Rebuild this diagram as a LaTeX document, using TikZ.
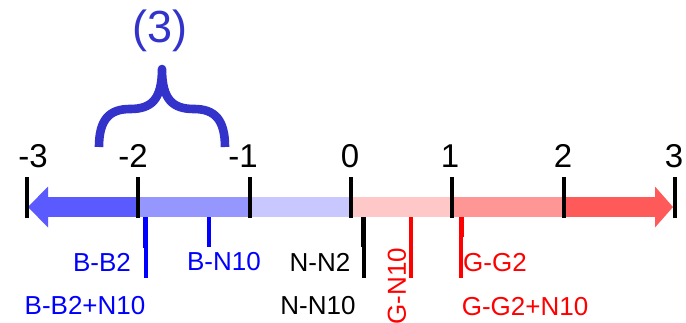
\documentclass[tikz,border=0pt]{standalone}
\usepackage{fontspec}
\setmainfont{Liberation Sans}
\definecolor{bneg3}{RGB}{90,90,255}
\definecolor{bneg2}{RGB}{150,150,255}
\definecolor{bneg1}{RGB}{200,200,255}
\definecolor{rpos1}{RGB}{255,200,200}
\definecolor{rpos2}{RGB}{255,150,150}
\definecolor{rpos3}{RGB}{255,90,90}
\definecolor{bracecol}{RGB}{51,51,204}

\begin{document}
\begin{tikzpicture}[x=0.5pt, y=0.5pt, every node/.style={inner sep=0pt},
  num/.style={font=\fontsize{16.5}{18}\selectfont},
  lab/.style={font=\fontsize{13}{15}\selectfont},
  tickmark/.style={line width=1.6pt},
  hitline/.style={line width=2pt}]
\useasboundingbox (0,0) rectangle (686,322);
% Farget skala
\fill[bneg3] (48,105) rectangle (138,125);
\fill[bneg3] (48,135.5) -- (28,115) -- (48,94.5) -- cycle;
\fill[bneg2] (138,105) rectangle (250,125);
\fill[bneg1] (250,105) rectangle (351,125);
\fill[rpos1] (351,105) rectangle (452,125);
\fill[rpos2] (452,105) rectangle (564,125);
\fill[rpos3] (564,105) rectangle (655,125);
\fill[rpos3] (655,135.5) -- (673,115) -- (655,94.5) -- cycle;
% Streker
\draw[tickmark] (27,104) -- (27,145);
\draw[tickmark] (138,104) -- (138,145);
\draw[tickmark] (250,104) -- (250,145);
\draw[tickmark] (351,104) -- (351,145);
\draw[tickmark] (452,104) -- (452,145);
\draw[tickmark] (564,104) -- (564,145);
\draw[tickmark] (675,104) -- (675,145);
% Tall
\node[num] (tm3) at (33,166) {-3};
\node[num] (tm2) at (133,166) {-2};
\node[num] (tm1) at (243,166) {-1};
\node[num] (t0) at (350,166) {0};
\node[num] (t1) at (450,166) {1};
\node[num] (t2) at (563,166) {2};
\node[num] (t3) at (674,166) {3};
% Markeringer (forenklet)
\draw[hitline, blue] (144.5,105) -- (144.5,74);
\draw[hitline, blue] (146,105) -- (146,44);
\draw[hitline, blue] (209,105) -- (209,75);
\draw[hitline] (363,105) -- (363,75);
\draw[hitline] (364,105) -- (364,44);
\draw[hitline, red] (410.5,105) -- (410.5,44);
\draw[hitline, red] (462,105) -- (462,85);
\draw[hitline, red] (461,105) -- (461,44);
% Etiketter
\node[lab, text=blue] (bb2) at (102,60) {B-B2};
\node[lab, text=blue] (bb2n) at (85,16) {B-B2+N10};
\node[lab, text=blue] (bn10) at (224,60) {B-N10};
\node[lab] (nn2) at (320,60) {N-N2};
\node[lab] (nn10) at (318,16) {N-N10};
\node[lab, text=red, rotate=90] (gn10) at (397,36) {G-N10};
\node[lab, text=red] (gg2) at (495,59) {G-G2};
\node[lab, text=red] (gg2n) at (525,15) {G-G2+N10};
% Klamme
\draw[bracecol, line width=4.3pt, line join=round] (99,175)
  .. controls (99,202) and (109,213) .. (130,213)
  .. controls (151,213) and (162,222) .. (162,253)
  .. controls (162,222) and (173,213) .. (194,213)
  .. controls (215,213) and (225,202) .. (225,175);
\node[font=\fontsize{22.5}{26}\selectfont, text=bracecol] (cnt) at (160,291) {(3)};
\end{tikzpicture}
\end{document}
